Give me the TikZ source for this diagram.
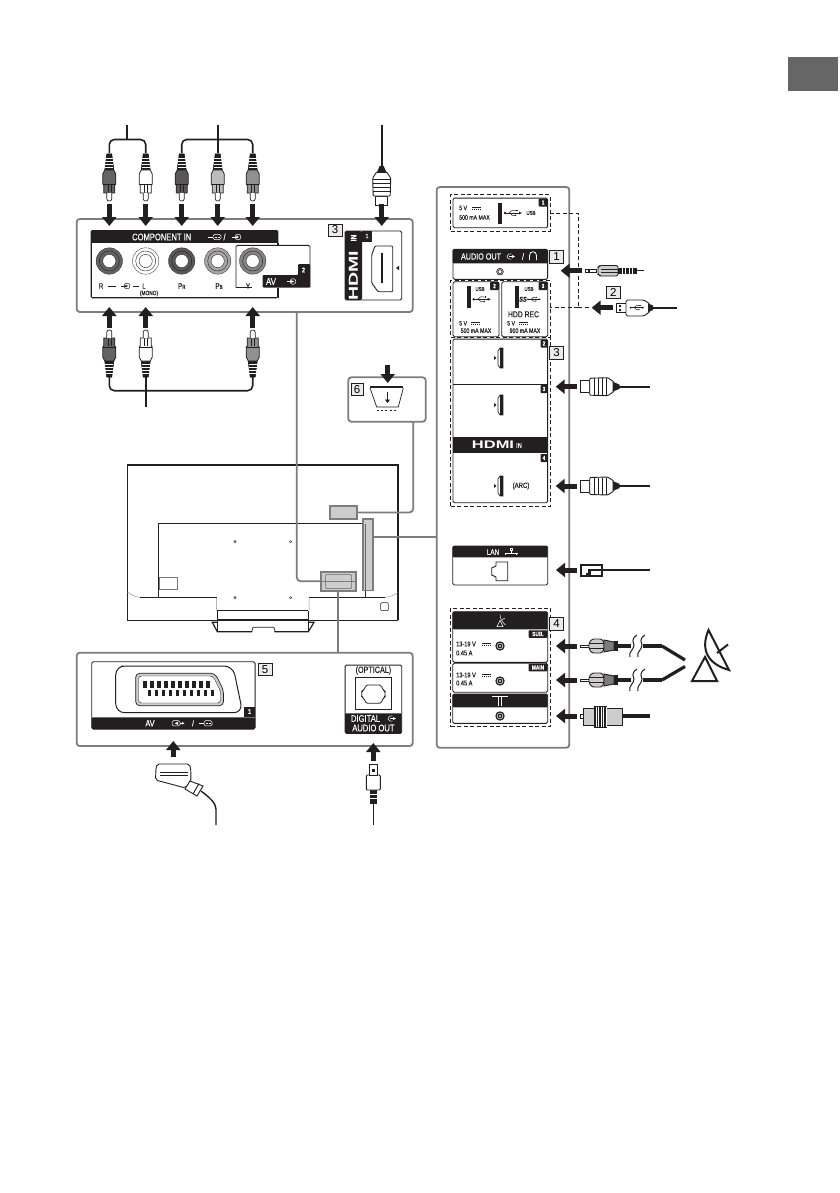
\documentclass[tikz,border=0pt]{standalone}
\usepackage{fontspec}
\setmainfont{Liberation Sans}
\newfontfamily\narrowf{Liberation Sans}[FakeStretch=0.8,FakeBold=0.15]
\newfontfamily\widef{Liberation Sans}[FakeStretch=1.5]
\usetikzlibrary{arrows.meta,positioning,calc}

\definecolor{ink}{RGB}{35,31,32}
\definecolor{framegray}{RGB}{125,125,125}
\definecolor{markgray}{RGB}{205,205,205}
\definecolor{numgray}{RGB}{235,235,235}
\definecolor{tabgray}{RGB}{102,102,102}

\tikzset{
    panel/.style={draw=framegray, line width=1.8pt, rounded corners=3pt, inner sep=0, outer sep=0},
    port/.style={draw=ink, line width=0.9pt, fill=white, rounded corners=1.5pt, inner sep=0, outer sep=0},
    dashbox/.style={draw=ink, line width=0.8pt, dash pattern=on 4pt off 2.5pt, inner sep=0, outer sep=0},
    marked/.style={draw=framegray, line width=1.8pt, fill=markgray, inner sep=0, outer sep=0},
    link/.style={draw=framegray, line width=1.8pt, rounded corners=4pt},
    numbox/.style={draw=ink, line width=0.5pt, fill=numgray, font=\fontsize{11.5}{12}\selectfont, inner sep=0, minimum width=14pt, minimum height=13pt},
    lab/.style={font=\narrowf\fontsize{#1}{#1}\selectfont, inner sep=0, text=ink},
    whitelab/.style={font=\narrowf\fontsize{#1}{#1}\selectfont, inner sep=0, text=white},
    badge/.style={fill=ink, text=white, font=\narrowf\bfseries\fontsize{6}{6}\selectfont, inner sep=0, minimum width=9pt, minimum height=8pt, rounded corners=0.8pt},
    blockarrow/.style={draw=ink, line width=5pt, -{Triangle[length=9pt,width=14pt]}, shorten <=0pt},
    cable/.style={draw=ink, line width=1.6pt, rounded corners=5pt},
    thickcable/.style={draw=ink, line width=3.2pt},
    % rca plug, tip at the origin, cable end up
    rcaplug/.pic={
        \draw[fill=ink, line width=0.5pt] (-2.5,-47) -- (2.5,-47) -- (4.5,-31) -- (-4.5,-31) -- cycle;
        \foreach \r in {-43,-40,-37,-34}
            \draw[white, line width=0.7pt] (-4,\r) -- (4,\r);
        \draw[fill=#1, draw=ink, line width=0.8pt] (-4.5,-31) -- (4.5,-31) -- (6.5,-27) -- (6.5,-17) -- (5.5,-16) -- (5.5,-8) -- (-5.5,-8) -- (-5.5,-16) -- (-6.5,-17) -- (-6.5,-27) -- cycle;
        \draw[ink, line width=0.5pt] (-6.5,-17) -- (6.5,-17);
        \draw[ink, line width=0.5pt] (-1.5,-16) -- (-1.5,-8) (1.5,-16) -- (1.5,-8);
        \draw[fill=white, draw=ink, line width=0.7pt] (-2.5,-8) -- (-2.5,-2) .. controls (-2.5,-0.5) and (-1,0) .. (0,0) .. controls (1,0) and (2.5,-0.5) .. (2.5,-2) -- (2.5,-8);
    },
    % hdmi plug, tip at the origin, cable end along +x
    hdmiplug/.pic={
        \draw[fill=white, draw=ink, line width=0.9pt] (0,-6) rectangle (9,6);
        \draw[fill=white, draw=ink, line width=0.9pt, rounded corners=1pt] (9,-8.5) -- (27,-9) -- (33,-5) -- (33,5) -- (27,9) -- (9,8.5) -- cycle;
        \foreach \r in {14,18,22,26}
            \draw[ink, line width=0.6pt] (\r,-8.5) -- (\r,8.5);
        \fill[ink] (32,-5) -- (39,-2) -- (39,2) -- (32,5) -- cycle;
    },
    % rj45 and coax plugs
    lanplug/.pic={
        \fill[ink] (0,-6.5) rectangle (23,6.5);
        \fill[white] (2,-4) rectangle (8,3);
        \fill[white] (8,-4) rectangle (21,-1.5);
        \fill[white] (11,1) rectangle (21,4.5);
        \fill[white] (2,3) rectangle (6,4.5);
    },
    fplug/.pic={
        \draw[fill=white, draw=ink, line width=0.6pt] (0,-1.2) rectangle (9,1.2);
        \draw[fill=markgray, draw=ink, line width=0.9pt, rounded corners=1.5pt] (9,-3) -- (12,-7) -- (22,-7) -- (24,-3) -- (24,3) -- (22,7) -- (12,7) -- (9,3) -- cycle;
        \draw[ink, line width=0.5pt] (9,-2.5) -- (24,-2.5) (9,2.5) -- (24,2.5);
        \draw[fill=framegray, draw=ink, line width=0.9pt] (24,-6) -- (34,-4) -- (34,4) -- (24,6) -- cycle;
        \fill[ink] (34,-5) rectangle (38,5);
    },
    % white or dark port symbols
    inicon/.pic={
        \draw[#1, line width=0.5pt] (0,0) circle[radius=2.9];
        \draw[#1, line width=0.5pt] (-6,0) -- (-1,0);
        \fill[#1] (-1.6,-1.4) -- (1,0) -- (-1.6,1.4) -- cycle;
    },
    outicon/.pic={
        \draw[#1, line width=0.5pt] (1.5,-2.6) .. controls (-0.5,-3.5) and (-3,-2) .. (-3,0) .. controls (-3,2) and (-0.5,3.5) .. (1.5,2.6);
        \draw[#1, line width=0.5pt] (-1,0) -- (2.5,0);
        \fill[#1] (2.2,-1.4) -- (5,0) -- (2.2,1.4) -- cycle;
    },
    scarticon/.pic={
        \draw[#1, line width=0.5pt] (-9,0) -- (-4,0);
        \draw[#1, line width=0.5pt, rounded corners=1.5pt] (-4,-2.6) rectangle (4,2.6);
        \draw[#1, line width=0.7pt, dash pattern=on 0.8pt off 0.8pt] (-2.5,0) -- (3,0);
    },
    scartout/.pic={
        \draw[#1, line width=0.5pt, rounded corners=1.5pt] (-4,-2.6) rectangle (4,2.6);
        \fill[#1] (2,-1.6) -- (-1.2,0) -- (2,1.6) -- cycle;
        \draw[#1, line width=0.5pt] (4,0) -- (6,0);
        \fill[#1] (6,-1.4) -- (8.5,0) -- (6,1.4) -- cycle;
    },
    usbicon/.pic={
        \draw[ink, line width=0.6pt] (-8,0) -- (7,0);
        \fill[ink] (-8,0) circle[radius=1.3];
        \fill[ink] (6,-1.4) -- (9,0) -- (6,1.4) -- cycle;
        \draw[ink, line width=0.5pt] (-4,0) -- (-1,-2.5) -- (3,-2.5) (-3,0) -- (-1,2.3) -- (2,2.3);
        \fill[ink] (3,-3.4) rectangle (4.5,-1.8);
        \fill[ink] (2.5,2.3) circle[radius=0.9];
    },
    dcmark/.pic={
        \draw[#1, line width=0.5pt] (0,-1) -- (9,-1);
        \draw[#1, line width=0.5pt, dash pattern=on 1.4pt off 0.6pt] (0,1) -- (9,1);
    },
    coaxjack/.pic={
        \fill[ink] (0,0) circle[radius=4.7];
        \draw[white, line width=0.5pt] (0,0) circle[radius=2.9];
        \fill[white] (0,0) circle[radius=1];
    },
    hdmiport/.pic={
        \fill[ink] (-6,-2) -- (-3.5,0) -- (-6,2) -- cycle;
        \draw[fill=white, draw=ink, line width=0.7pt] (-2,-7) -- (0,-10) -- (3,-10) -- (3,10) -- (0,10) -- (-2,7) -- cycle;
        \fill[ink] (0.4,-10) rectangle (3,10);
    },
    rcajack/.pic={
        \fill[#1, draw=ink, line width=0.3pt] (0,0) circle[radius=13.2];
        \draw[ink, line width=0.4pt] (0,0) circle[radius=10];
        \fill[white, draw=ink, line width=0.4pt] (0,0) circle[radius=6.6];
    },
}

\begin{document}
\begin{tikzpicture}[x=1pt, y=-1pt]
    \useasboundingbox (0,0) rectangle (839,1193);
    \fill[white] (0,0) rectangle (839,1193);

    % Grey tab of the page
    \fill[tabgray] (788,56.7) rectangle (838,90.7);

    % Rear of the set
    \draw[ink, line width=0.9pt] (127.3,465) rectangle (397.7,620);
    \draw[ink, line width=1.6pt] (127.3,465) -- (397.7,465) -- (397.7,620);
    \draw[ink, line width=0.5pt] (158.3,597.3) -- (158.3,523.3) -- (365.7,523.3) -- (365.7,597.3);
    \draw[ink!50, line width=0.5pt] (127.3,592) .. controls (132,595) and (136,597.3) .. (140,597.3) -- (216.7,597.3) -- (216.7,610.7);
    \draw[ink, line width=0.5pt] (140,597.3) -- (216.7,597.3);
    \draw[ink!50, line width=0.5pt] (309,610.7) -- (309,597.3) -- (385,597.3) .. controls (390,597.3) and (394,595) .. (397.7,592.7);
    \draw[ink, line width=0.5pt] (309,597.3) -- (385,597.3);
    \draw[ink!60, line width=0.5pt] (159.3,577.3) rectangle (177.3,589.3);
    \draw[ink, line width=0.5pt, rounded corners=1pt] (380.7,602.7) rectangle (388.3,610.7);
    \foreach \mx in {235,290.7}
        \foreach \my in {541.7,597.7}
            \draw[ink, line width=0.4pt] (\mx,\my) circle[radius=1.2];
    \draw[ink, line width=1.2pt] (217.3,610.7) -- (308.3,610.7);
    \draw[ink, line width=0.7pt] (217.3,610.7) -- (217.3,631.7) (308.3,610.7) -- (308.3,631.7);
    \draw[ink, line width=1.2pt] (212.3,622.3) -- (217.3,631.7) -- (251.7,631.7) -- (253,627.3) -- (274,627.3) -- (275,631.7) -- (308.3,631.7) -- (314,622.3) -- cycle;
    \fill[white] (218,620.8) rectangle (308,630.8);
    \draw[ink, line width=1.2pt] (217.3,620) -- (308.3,620);
    \draw[ink, line width=0.7pt] (252,630.8) -- (253,627.3) -- (274,627.3) -- (275,630.8);

    % Marked areas on the rear
    \node[marked, minimum width=27pt, minimum height=13.5pt] (markstand) at (343.6,512.5) {};
    \node[marked, minimum width=10.5pt, minimum height=71.5pt] (markside) at (368,554.8) {};
    \draw[ink!70, line width=0.5pt] (365.5,524) -- (365.5,590);
    \node[marked, minimum width=35pt, minimum height=19pt] (markrear) at (338.5,581.2) {};
    \draw[framegray, line width=1.4pt] (321,581.2) -- (356,581.2);
    \draw[ink!70, line width=0.5pt, rounded corners=1pt] (325.5,574.5) rectangle (351.5,588.5);

    % Component panel
    \node[panel, minimum width=336pt, minimum height=93pt] (panelcomp) at (244.7,265.5) {};
    \fill[ink, rounded corners=1.5pt] (90.7,230) rectangle (278.3,298.3);
    \fill[white] (92,243) rectangle (277,297);
    \draw[ink, line width=0.9pt] (278,243) -- (278,298);
    \fill[white] (235.7,245.3) rectangle (310,287.7);
    \draw[ink, line width=0.9pt, rounded corners=1.5pt] (236,287.7) -- (236,245.3) -- (310,245.3) -- (310,287.7);
    \fill[ink, rounded corners=1pt] (262.7,275) -- (298,275) -- (298,264) -- (310,264) -- (310,287.7) -- (262.7,287.7) -- cycle;
    \draw[ink, line width=0.9pt] (236,287.7) -- (252,287.7);
    \node[whitelab=9.5] (compname) at (161.7,237) {COMPONENT IN};
    \pic at (217,237) {scarticon=white};
    \node[whitelab=9] (compslash) at (224.5,237) {/};
    \pic at (238,237) {inicon=white};
    \foreach \jx/\jc in {109.3/ink!70,145.7/white,181.7/ink!75,217.7/ink!40,252.7/ink!55}
        \pic at (\jx,261) {rcajack=\jc};
    \node[lab=7.5] (jackr) at (101,286) {R};
    \draw[ink, line width=0.8pt] (108,286) -- (116,286);
    \pic at (127,286) {inicon=ink};
    \draw[ink, line width=0.8pt] (133,286) -- (139,286);
    \node[lab=7.5] (jackl) at (144,286) {L};
    \node[lab=6] (jackmono) at (149,293.5) {(MONO)};
    \node[lab=8] (jackpr) at (181.7,286) {P\fontsize{5.5}{5}\selectfont R};
    \node[lab=8] (jackpb) at (219,286) {P\fontsize{5.5}{5}\selectfont B};
    \node[lab=7.5] (jacky) at (248,286) {Y};
    \node[whitelab=10] (avname) at (271,281.5) {AV};
    \pic at (293,281.5) {inicon=white};
    \node[whitelab=7] (avnum) at (303.5,270) {\bfseries 2};

    % Hdmi on the component panel
    \node[numbox, minimum height=12pt] (numhdmi) at (335,229.8) {3};
    \node[port, minimum width=56.7pt, minimum height=69pt] (porthdmi) at (373.4,265.5) {};
    \fill[ink, rounded corners=1.5pt] (345,231) rectangle (362,300);
    \fill[ink] (362,231) rectangle (372,241.5);
    \node[rotate=90, text=white, inner sep=0, font=\widef\bfseries\fontsize{13}{13}\selectfont] (hdminame) at (353.5,276) {HDMI};
    \node[whitelab=8, rotate=90] (hdmiin) at (353.5,238) {\bfseries IN};
    \node[whitelab=6.5] (hdminum) at (367,236) {\bfseries 1};
    \draw[fill=white, draw=ink, line width=0.9pt, rounded corners=1pt] (375,246) -- (392.7,246) -- (392.7,291.7) -- (378,291.7) -- (371.7,283) -- (371.7,255) -- cycle;
    \fill[ink] (380.5,253) rectangle (382.5,283);
    \fill[ink] (396,268) -- (399,265.8) -- (399,270.2) -- cycle;

    % Plugs above and below the component panel
    \draw[cable] (126.7,125) -- (126.7,139.5);
    \draw[cable] (109.3,153) -- (109.3,139.5) -- (145.7,139.5) -- (145.7,153);
    \draw[cable] (217.7,125) -- (217.7,153);
    \draw[cable] (181.7,153) -- (181.7,139.5) -- (252.7,139.5) -- (252.7,153);
    \draw[cable] (381.7,125) -- (381.7,166);
    \foreach \px/\pc in {109.3/ink!70,145.7/white,181.7/ink!75,217.7/ink!30,252.7/ink!50}
        \pic at (\px,201) {rcaplug=\pc};
    \pic[rotate=90] at (381.7,205) {hdmiplug};
    \draw[cable] (109.3,376) -- (109.3,390.7) -- (252.7,390.7) -- (252.7,376);
    \draw[cable] (145.7,376) -- (145.7,406.7);
    \foreach \px/\pc in {109.3/ink!70,145.7/white,252.7/ink!50}
        \pic[rotate=180] at (\px,330) {rcaplug=\pc};
    \foreach \ax in {109.3,145.7,181.7,217.7,252.7,381.7}
        \draw[blockarrow] (\ax,204) -- (\ax,226);
    \foreach \ax in {109.3,145.7,252.7}
        \draw[blockarrow] (\ax,328) -- (\ax,307);

    % Stand panel
    \node[panel, minimum width=77.4pt, minimum height=44.4pt] (panelstand) at (387,399.5) {};
    \draw[blockarrow] (387.7,364.5) -- (387.7,383);
    \node[numbox, minimum width=12.5pt, minimum height=12pt] (numstand) at (357,389.3) {6};
    \draw[ink, line width=0.7pt] (370,388) -- (376.7,407) -- (398.3,407) -- (403.3,388);
    \draw[ink, line width=1.8pt] (370,387.3) -- (403.3,387.3);
    \draw[ink, line width=1.2pt, -{Triangle[length=3.5pt,width=5pt]}] (387.5,392) -- (387.5,403);
    \draw[ink, line width=1.4pt, dash pattern=on 2pt off 2.2pt] (377,410.5) -- (397,410.5);

    % Scart and optical panel
    \node[panel, minimum width=336pt, minimum height=93.3pt] (panelav) at (244.7,699.4) {};
    \node[port, minimum width=163.3pt, minimum height=67.3pt] (portscart) at (173.4,695.4) {};
    \fill[ink, rounded corners=1pt] (91.7,717.3) rectangle (255,729);
    \fill[ink] (244,706.7) rectangle (255,717.3);
    \node[whitelab=7] (scartnum) at (249.5,711.5) {\bfseries 1};
    \node[whitelab=9] (scartav) at (150,723.3) {AV};
    \pic at (176,723.3) {scartout=white};
    \node[whitelab=8] (scartslash) at (193,723.3) {/};
    \pic at (208,723.3) {scarticon=white};
    \draw[ink, line width=1pt, rounded corners=9pt] (130,666) -- (233,666) -- (242.7,712.7) -- (115.7,712.7) -- (115.7,666) -- cycle;
    \draw[ink, fill=markgray, line width=0.7pt, rounded corners=4pt] (135.7,673.3) -- (215,673.3) -- (223.5,690) -- (223.5,705.7) -- (135.7,705.7) -- cycle;
    \draw[ink, fill=white, line width=0.4pt, rounded corners=3pt] (138.5,676) -- (213,676) -- (220.5,691) -- (220.5,703) -- (138.5,703) -- cycle;
    \foreach \n in {0,...,9} {
        \fill[ink] (143+7*\n,681) rectangle +(3.6,6.5);
        \fill[ink] (147.5+7*\n,689.5) rectangle +(3.6,6.5);
    }
    \node[numbox, minimum width=14.5pt, minimum height=12pt] (numav) at (265,669.2) {5};
    \node[port, minimum width=56.7pt, minimum height=68.3pt] (portopt) at (373.4,699.2) {};
    \fill[ink, rounded corners=1pt] (345,713.3) rectangle (401.7,733.3);
    \node[lab=9] (optname) at (373.4,670.5) {(OPTICAL)};
    \draw[ink, line width=0.7pt] (355,677.3) rectangle (391.7,709.3);
    \draw[ink, line width=0.8pt, rounded corners=1.5pt] (366,685) -- (381,685) -- (383,690) -- (385,691) -- (385,697) -- (383,698.5) -- (381,703.3) -- (366,703.3) -- (364,698.5) -- (361.7,697) -- (361.7,691) -- (364,690) -- cycle;
    \node[whitelab=9.5] (optdig) at (365.5,718.5) {DIGITAL};
    \pic at (391,718.5) {outicon=white};
    \node[whitelab=9.5] (optaud) at (373.4,728) {AUDIO OUT};
    \draw[blockarrow] (173.3,757) -- (173.3,741);
    \draw[blockarrow] (373.3,761) -- (373.3,743);

    % Plugs below it
    \draw[cable, line width=1.4pt] (201,791) .. controls (209,797) and (216,803) .. (216,814) -- (216,825);
    \draw[fill=white, draw=ink, line width=0.9pt, rounded corners=2pt] (156,768) -- (157,764) -- (189.3,764) -- (190.7,768) -- (191,781) -- (185.5,788) -- (155.5,780) -- cycle;
    \draw[ink, line width=0.5pt] (160,772) -- (188,772) (160,775) -- (188,775);
    \draw[fill=white, draw=ink, line width=0.9pt] (190,781) -- (203,786) -- (197,796) -- (185,789) -- cycle;
    \draw[ink, line width=0.9pt] (199,783.5) -- (193,794);
    \draw[cable, line width=1.4pt] (373.3,800) -- (373.3,825);
    \fill[ink] (369.5,790) rectangle (377,804);
    \draw[white, line width=0.5pt] (369.5,794) -- (377,794) (369.5,798) -- (377,798);
    \draw[fill=white, draw=ink, line width=0.9pt, rounded corners=1pt] (366.3,775) -- (380.3,775) -- (380.3,790) -- (366.3,790) -- cycle;
    \draw[fill=white, draw=ink, line width=0.9pt] (369,764) -- (377.6,764) -- (377.6,775) -- (369,775) -- cycle;
    \fill[ink] (371.8,769) rectangle (374.8,772);

    % Side panel
    \node[panel, minimum width=132.6pt, minimum height=560.7pt] (panelside) at (503,467.4) {};

    % Usb 1
    \node[dashbox, minimum width=99.3pt, minimum height=36.6pt] (dashusb) at (500.3,213) {};
    \node[port, minimum width=94.7pt, minimum height=29.7pt] (portusb) at (500.3,212.9) {};
    \node[lab=6.5, anchor=west] (usbvolt) at (459,208) {5 V};
    \pic at (472,208) {dcmark=ink};
    \node[lab=6.5, anchor=west] (usbamp) at (459,217.5) {500 mA MAX};
    \fill[ink] (498.3,202.7) rectangle (502.3,224.3);
    \pic at (513,213) {usbicon};
    \node[lab=5.5] (usbname) at (531,213) {USB};
    \node[badge] (usbnum) at (543.2,202.5) {1};

    % Audio out
    \node[port, minimum width=94.7pt, minimum height=30pt] (portaudio) at (500.3,264.3) {};
    \fill[ink, rounded corners=1pt] (452.7,249.3) rectangle (548,263.3);
    \node[whitelab=9] (audname) at (481,256.5) {AUDIO OUT};
    \pic at (510,256.5) {outicon=white};
    \node[whitelab=9] (audslash) at (523,256.5) {/};
    \draw[white, line width=0.8pt] (529.5,260) -- (529.5,255.5) .. controls (529.5,250.5) and (536.5,250.5) .. (536.5,255.5) -- (536.5,260);
    \draw[ink, line width=0.6pt] (500,271.7) circle[radius=3.4] (500,271.7) circle[radius=2];
    \node[numbox] (numaudio) at (556.5,256.5) {1};

    % Usb 2 and 3
    \node[dashbox, minimum width=99.3pt, minimum height=56.6pt] (dashrec) at (500.3,309) {};
    \node[port, minimum width=46pt, minimum height=55pt] (portusba) at (476,309.2) {};
    \node[port, minimum width=46pt, minimum height=55pt] (portusbb) at (524.7,309.2) {};
    \fill[ink] (466.7,286) rectangle (470.7,307.7);
    \node[lab=5.5] (usbaname) at (480,289) {USB};
    \pic at (481.7,299.3) {usbicon};
    \node[badge] (usbanum) at (494.5,286) {2};
    \node[lab=6.5, anchor=west] (usbavolt) at (459,323.3) {5 V};
    \pic at (471,323.3) {dcmark=ink};
    \node[lab=6.5] (usbaamp) at (476,330.7) {500 mA MAX};
    \fill[ink] (515,286) rectangle (519,307.7);
    \node[lab=5.5] (usbbname) at (529,289) {USB};
    \node[lab=7] (usbbss) at (523,299.3) {\itshape\bfseries SS};
    \pic[scale=0.75] at (534,299.3) {usbicon};
    \node[badge] (usbbnum) at (543,286) {3};
    \node[lab=8.5] (usbbrec) at (523.5,314.3) {HDD REC};
    \node[lab=6.5, anchor=west] (usbbvolt) at (507,323.3) {5 V};
    \pic at (519,323.3) {dcmark=ink};
    \node[lab=6.5] (usbbamp) at (525,330.7) {900 mA MAX};

    % Hdmi 2, 3, 4
    \node[dashbox, minimum width=99.3pt, minimum height=169.4pt] (dashhdmi) at (500.3,422) {};
    \node[port, minimum width=94.7pt, minimum height=163.7pt] (porthdmib) at (500.3,420.9) {};
    \draw[ink, line width=0.8pt] (453,384.3) -- (547.7,384.3);
    \fill[ink] (453,436.7) rectangle (547.7,453.3);
    \node[text=white, inner sep=0, font=\widef\bfseries\fontsize{11}{11}\selectfont] (hdmiside) at (493,445) {HDMI};
    \node[whitelab=7] (hdmisidein) at (519,445.5) {IN};
    \foreach \hy in {358,405,486}
        \pic at (500,\hy) {hdmiport};
    \node[badge, minimum width=7pt] (hdminumb) at (544,343.5) {2};
    \node[badge, minimum width=7pt] (hdminumc) at (544,389) {3};
    \node[badge, minimum width=7pt] (hdminumd) at (544,458) {4};
    \node[lab=7.5] (hdmiarc) at (521,486) {(ARC)};
    \node[numbox] (numsidehdmi) at (556.5,353) {3};

    % Lan
    \node[port, minimum width=95pt, minimum height=39pt] (portlan) at (500.2,565.5) {};
    \fill[ink, rounded corners=1pt] (452.7,546) rectangle (547.7,557.3);
    \node[whitelab=8] (lanname) at (493,552) {LAN};
    \draw[white, line width=0.4pt] (510,548) rectangle (512,550) (511,550) -- (511,553) (504.5,553) -- (517.5,553) (505.5,553) -- (505.5,555) (516.5,553) -- (516.5,555);
    \draw[ink, line width=0.9pt] (507.7,562) -- (496,562) -- (496,566) -- (491.7,568) -- (491.7,575) -- (496,577) -- (496,580.7) -- (507.7,580.7) -- cycle;

    % Satellite and aerial
    \node[dashbox, minimum width=100pt, minimum height=118.4pt] (dashsat) at (500.7,667.5) {};
    \node[port, minimum width=95pt, minimum height=50.6pt] (portsub) at (500.2,637) {};
    \fill[ink, rounded corners=1pt] (452.7,611.7) rectangle (547.7,629.3);
    \draw[white, line width=0.5pt] (497,626.5) -- (503,626.5) -- (500,620.5) -- cycle;
    \draw[white, line width=0.5pt] (500,614.5) .. controls (500,619) and (502,622) .. (505.5,625);
    \draw[white, line width=0.5pt] (501.5,620) -- (505,618);
    \node[badge, minimum width=19pt, minimum height=7.5pt] (subtag) at (538,634) {SUB.};
    \node[lab=7, anchor=west] (subvolt) at (456,644) {13-19 V};
    \pic at (482,644) {dcmark=ink};
    \node[lab=7, anchor=west] (subamp) at (456,653) {0.45 A};
    \pic at (500,646) {coaxjack};
    \node[port, minimum width=95pt, minimum height=29pt] (portmain) at (500.2,677.7) {};
    \node[badge, minimum width=19pt, minimum height=7.5pt] (maintag) at (538,667.5) {MAIN};
    \node[lab=7, anchor=west] (mainvolt) at (456,675) {13-19 V};
    \pic at (482,675) {dcmark=ink};
    \node[lab=7, anchor=west] (mainamp) at (456,683) {0.45 A};
    \pic at (500,681) {coaxjack};
    \node[port, minimum width=95pt, minimum height=29.3pt] (portant) at (500.2,708.7) {};
    \fill[ink, rounded corners=1pt] (452.7,694) rectangle (547.7,707.3);
    \draw[white, line width=0.7pt] (492,696.5) -- (508,696.5) (498.7,696.5) -- (498.7,705.5) (501.3,696.5) -- (501.3,705.5);
    \pic at (500,716) {coaxjack};
    \node[numbox] (numsat) at (556.5,623.3) {4};

    % Usb dashed links
    \coordinate (usbbend) at (578.3,307.7);
    \draw[ink, line width=1pt, dash pattern=on 4pt off 2.5pt] (dashusb.east) -| (usbbend);
    \draw[ink, line width=0.7pt, dash pattern=on 4pt off 2.5pt] (usbbend) -- (dashrec.east |- usbbend);
    \draw[ink, line width=0.7pt, dash pattern=on 4pt off 2.5pt] (usbbend) -- (590,307.7);

    % Cables and plugs on the right
    \foreach \ay/\ax in {270.7/581.7,307.7/612.7,386.7/576.7,486/576.7,570/577,646/577,680/577,716/577}
        \draw[blockarrow] (\ax,\ay) -- ({\ax-21},\ay);
    % mini jack
    \draw[cable, line width=1.4pt] (635,270.7) -- (643.5,270.7);
    \draw[fill=white, draw=ink, line width=0.6pt] (585,269.2) -- (596,269.2) -- (596,272.2) -- (585,272.2) -- cycle;
    \fill[ink] (588,269) rectangle (590,272.4);
    \draw[fill=markgray, draw=ink, line width=0.8pt, rounded corners=1.5pt] (598,267) -- (600,265.5) -- (618,265.5) -- (618,276) -- (600,276) -- (598,274.5) -- cycle;
    \draw[ink, line width=0.4pt] (601,269) -- (618,269) (601,272.5) -- (618,272.5);
    \fill[ink] (618,267.5) rectangle (637,274);
    \foreach \jr in {622,625.5,629,632.5}
        \draw[white, line width=0.6pt] (\jr,267.5) -- (\jr,274);
    % usb plug
    \node[numbox, minimum width=14.5pt, minimum height=12.5pt] (numusb) at (613.3,292) {2};
    \draw[cable, line width=1.6pt] (650,307.7) -- (676.7,307.7);
    \draw[fill=white, draw=ink, line width=0.9pt] (616.7,303) rectangle (626,312.5);
    \fill[ink] (619,305) rectangle (621,307) (619,309) rectangle (621,311);
    \draw[fill=white, draw=ink, line width=0.9pt, rounded corners=1.5pt] (626,300) -- (644,300) -- (650,304) -- (650,311.5) -- (644,316) -- (626,316) -- cycle;
    \pic[scale=0.8] at (637,307.7) {usbicon};
    \fill[ink] (648,303.5) -- (653,305.5) -- (653,310) -- (648,312) -- cycle;
    % hdmi plugs
    \foreach \hy in {386.7,486} {
        \draw[cable, line width=1.6pt] (618,\hy) -- (650,\hy);
        \pic at (580.7,\hy) {hdmiplug};
    }
    % lan plug
    \draw[cable, line width=1.6pt] (603,570) -- (650,570);
    \pic at (580.3,570) {lanplug};
    % satellite plugs
    \foreach \sy/\se in {646/660,680/667} {
        \draw[thickcable] (617,\sy) -- (631,\sy);
        \draw[thickcable] (643,\sy) -- (662,\sy);
        \pic at (580,\sy) {fplug};
        \draw[ink, line width=1pt] (637,\sy-11) .. controls (630,\sy-6) and (634,\sy-4) .. (634,\sy-1) .. controls (634,\sy+4) and (628,\sy+6) .. (630,\sy+11);
        \draw[ink, line width=1pt] (645,\sy-11) .. controls (638,\sy-6) and (642,\sy-4) .. (642,\sy-1) .. controls (642,\sy+4) and (636,\sy+6) .. (638,\sy+11);
    }
    \draw[thickcable] (662,646) -- (685,660);
    \draw[thickcable] (662,680) -- (685,666.5);
    % dish
    \draw[ink, line width=2pt, line join=miter] (692,681) -- (717,681) -- (705,657) -- cycle;
    \draw[ink, line width=2pt, fill=white] (708.5,630) .. controls (700,650) and (708,664) .. (729,670) -- cycle;
    \draw[ink, line width=2pt] (717,653) -- (728,644.5);
    % aerial plug
    \draw[thickcable] (622,716) -- (650,716);
    \draw[fill=white, draw=ink, line width=0.7pt] (580,714) rectangle (585,718);
    \draw[fill=markgray, draw=ink, line width=0.9pt] (583.5,708) rectangle (622.5,725);
    \fill[ink] (594,705.5) rectangle (607,727.5);
    \foreach \cr in {596,598.5,601,603.5,606}
        \draw[white, line width=0.5pt] (\cr,706.5) -- (\cr,726.5);

    % Connectors from the rear to the panels
    \coordinate (tapcomp) at (296.7,312);
    \coordinate (tapstand) at (413.3,421.7);
    \coordinate (tapav) at (338.3,652.7);
    \draw[link] (tapcomp) |- (markrear.west);
    \draw[link] (tapstand) |- (markstand.east);
    \draw[link] (markside.east |- 373,536.7) -- (panelside.west |- 437,536.7);
    \draw[link] (markrear.south -| tapav) -- (tapav);
\end{tikzpicture}
\end{document}
